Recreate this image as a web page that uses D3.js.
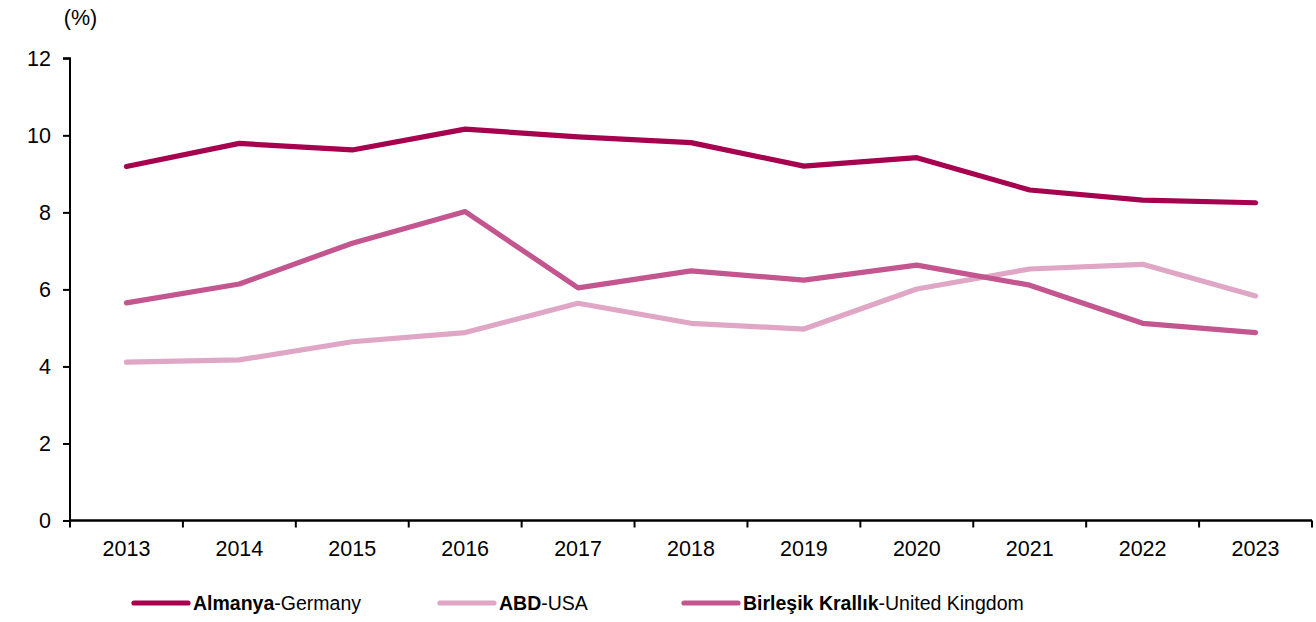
<!DOCTYPE html>
<html>
<head>
<meta charset="utf-8">
<script src="https://cdn.jsdelivr.net/npm/d3@7"></script>
<style>
  html, body { margin: 0; padding: 0; background: #fff; }
  svg { display: block; font-family: "Liberation Sans", Arial, sans-serif; }
</style>
</head>
<body>
<svg id="chart" width="1316" height="622"></svg>
<script>
// Share (%) by year for three countries
const years = ["2013","2014","2015","2016","2017","2018","2019","2020","2021","2022","2023"];
const germany = [9.19, 9.79, 9.62, 10.16, 9.96, 9.81, 9.20, 9.42, 8.58, 8.32, 8.25];
const usa     = [4.11, 4.17, 4.64, 4.88, 5.64, 5.12, 4.97, 6.01, 6.53, 6.65, 5.83];
const uk      = [5.65, 6.14, 7.20, 8.02, 6.04, 6.48, 6.24, 6.63, 6.11, 5.12, 4.88];
const yTicks = [0, 2, 4, 6, 8, 10, 12];

const series = [
  { bold: "Almanya", rest: "-Germany", values: germany, color: "#A6004F" },
  { bold: "ABD", rest: "-USA", values: usa, color: "#E0A6C5" },
  { bold: "Birleşik Krallık", rest: "-United Kingdom", values: uk, color: "#C4568F" }
];

const svg = d3.select("#chart");
const plotLeft = 70, plotRight = 1312, plotTop = 58.3, plotBottom = 520.5;
const tickFont = 21.5;

const x = d3.scaleBand().domain(years).range([plotLeft, plotRight]);
const y = d3.scaleLinear().domain([0, 12]).range([plotBottom, plotTop]);

// y axis
const yAxis = svg.append("g")
  .attr("transform", `translate(${plotLeft},0)`)
  .call(d3.axisLeft(y).tickValues(yTicks).tickSize(7).tickPadding(12).tickFormat(d3.format("d")));
yAxis.select(".domain").attr("stroke", "#000").attr("stroke-width", 2).attr("d", `M-7,${plotTop}H0V${plotBottom}`);
yAxis.selectAll(".tick line").attr("stroke", "#000").attr("stroke-width", 2);
yAxis.selectAll(".tick text").attr("font-size", tickFont).attr("fill", "#000")
  .attr("font-family", "Liberation Sans, Arial, sans-serif");

// x axis with ticks on band boundaries
const xAxis = svg.append("g").attr("transform", `translate(0,${plotBottom})`);
xAxis.append("path")
  .attr("d", `M${plotLeft},0H${plotRight}`)
  .attr("stroke", "#000").attr("stroke-width", 2.5).attr("fill", "none");
const bounds = years.map(d => x(d)).concat([plotRight]);
xAxis.selectAll("line.tk").data(bounds).join("line")
  .attr("class", "tk")
  .attr("x1", d => d).attr("x2", d => d)
  .attr("y1", 0).attr("y2", 7)
  .attr("stroke", "#000").attr("stroke-width", 2);
xAxis.selectAll("text").data(years).join("text")
  .attr("x", d => x(d) + x.bandwidth() / 2)
  .attr("y", 35)
  .attr("text-anchor", "middle")
  .attr("font-size", tickFont)
  .attr("fill", "#000")
  .text(d => d);

// unit label
svg.append("text").attr("x", 80.5).attr("y", 25).attr("text-anchor", "middle")
  .attr("font-size", tickFont).attr("fill", "#000").text("(%)");

// lines
const line = d3.line()
  .x((d, i) => x(years[i]) + x.bandwidth() / 2)
  .y(d => y(d));

svg.append("g").selectAll("path").data([series[1], series[2], series[0]]).join("path")
  .attr("d", d => line(d.values))
  .attr("fill", "none")
  .attr("stroke", d => d.color)
  .attr("stroke-width", 5.2)
  .attr("stroke-linecap", "round")
  .attr("stroke-linejoin", "round");

// legend
const legendX = [134, 440, 684];
const legendY = 603;
const lg = svg.append("g").selectAll("g").data(series).join("g")
  .attr("transform", (d, i) => `translate(${legendX[i]},${legendY})`);
lg.append("line")
  .attr("x1", 0).attr("x2", 54).attr("y1", 0).attr("y2", 0)
  .attr("stroke", d => d.color).attr("stroke-width", 5.2).attr("stroke-linecap", "round");
const lt = lg.append("text").attr("x", 59).attr("y", 7).attr("font-size", 19.5).attr("fill", "#000");
lt.append("tspan").attr("font-weight", "bold").text(d => d.bold);
lt.append("tspan").text(d => d.rest);
</script>
</body>
</html>
